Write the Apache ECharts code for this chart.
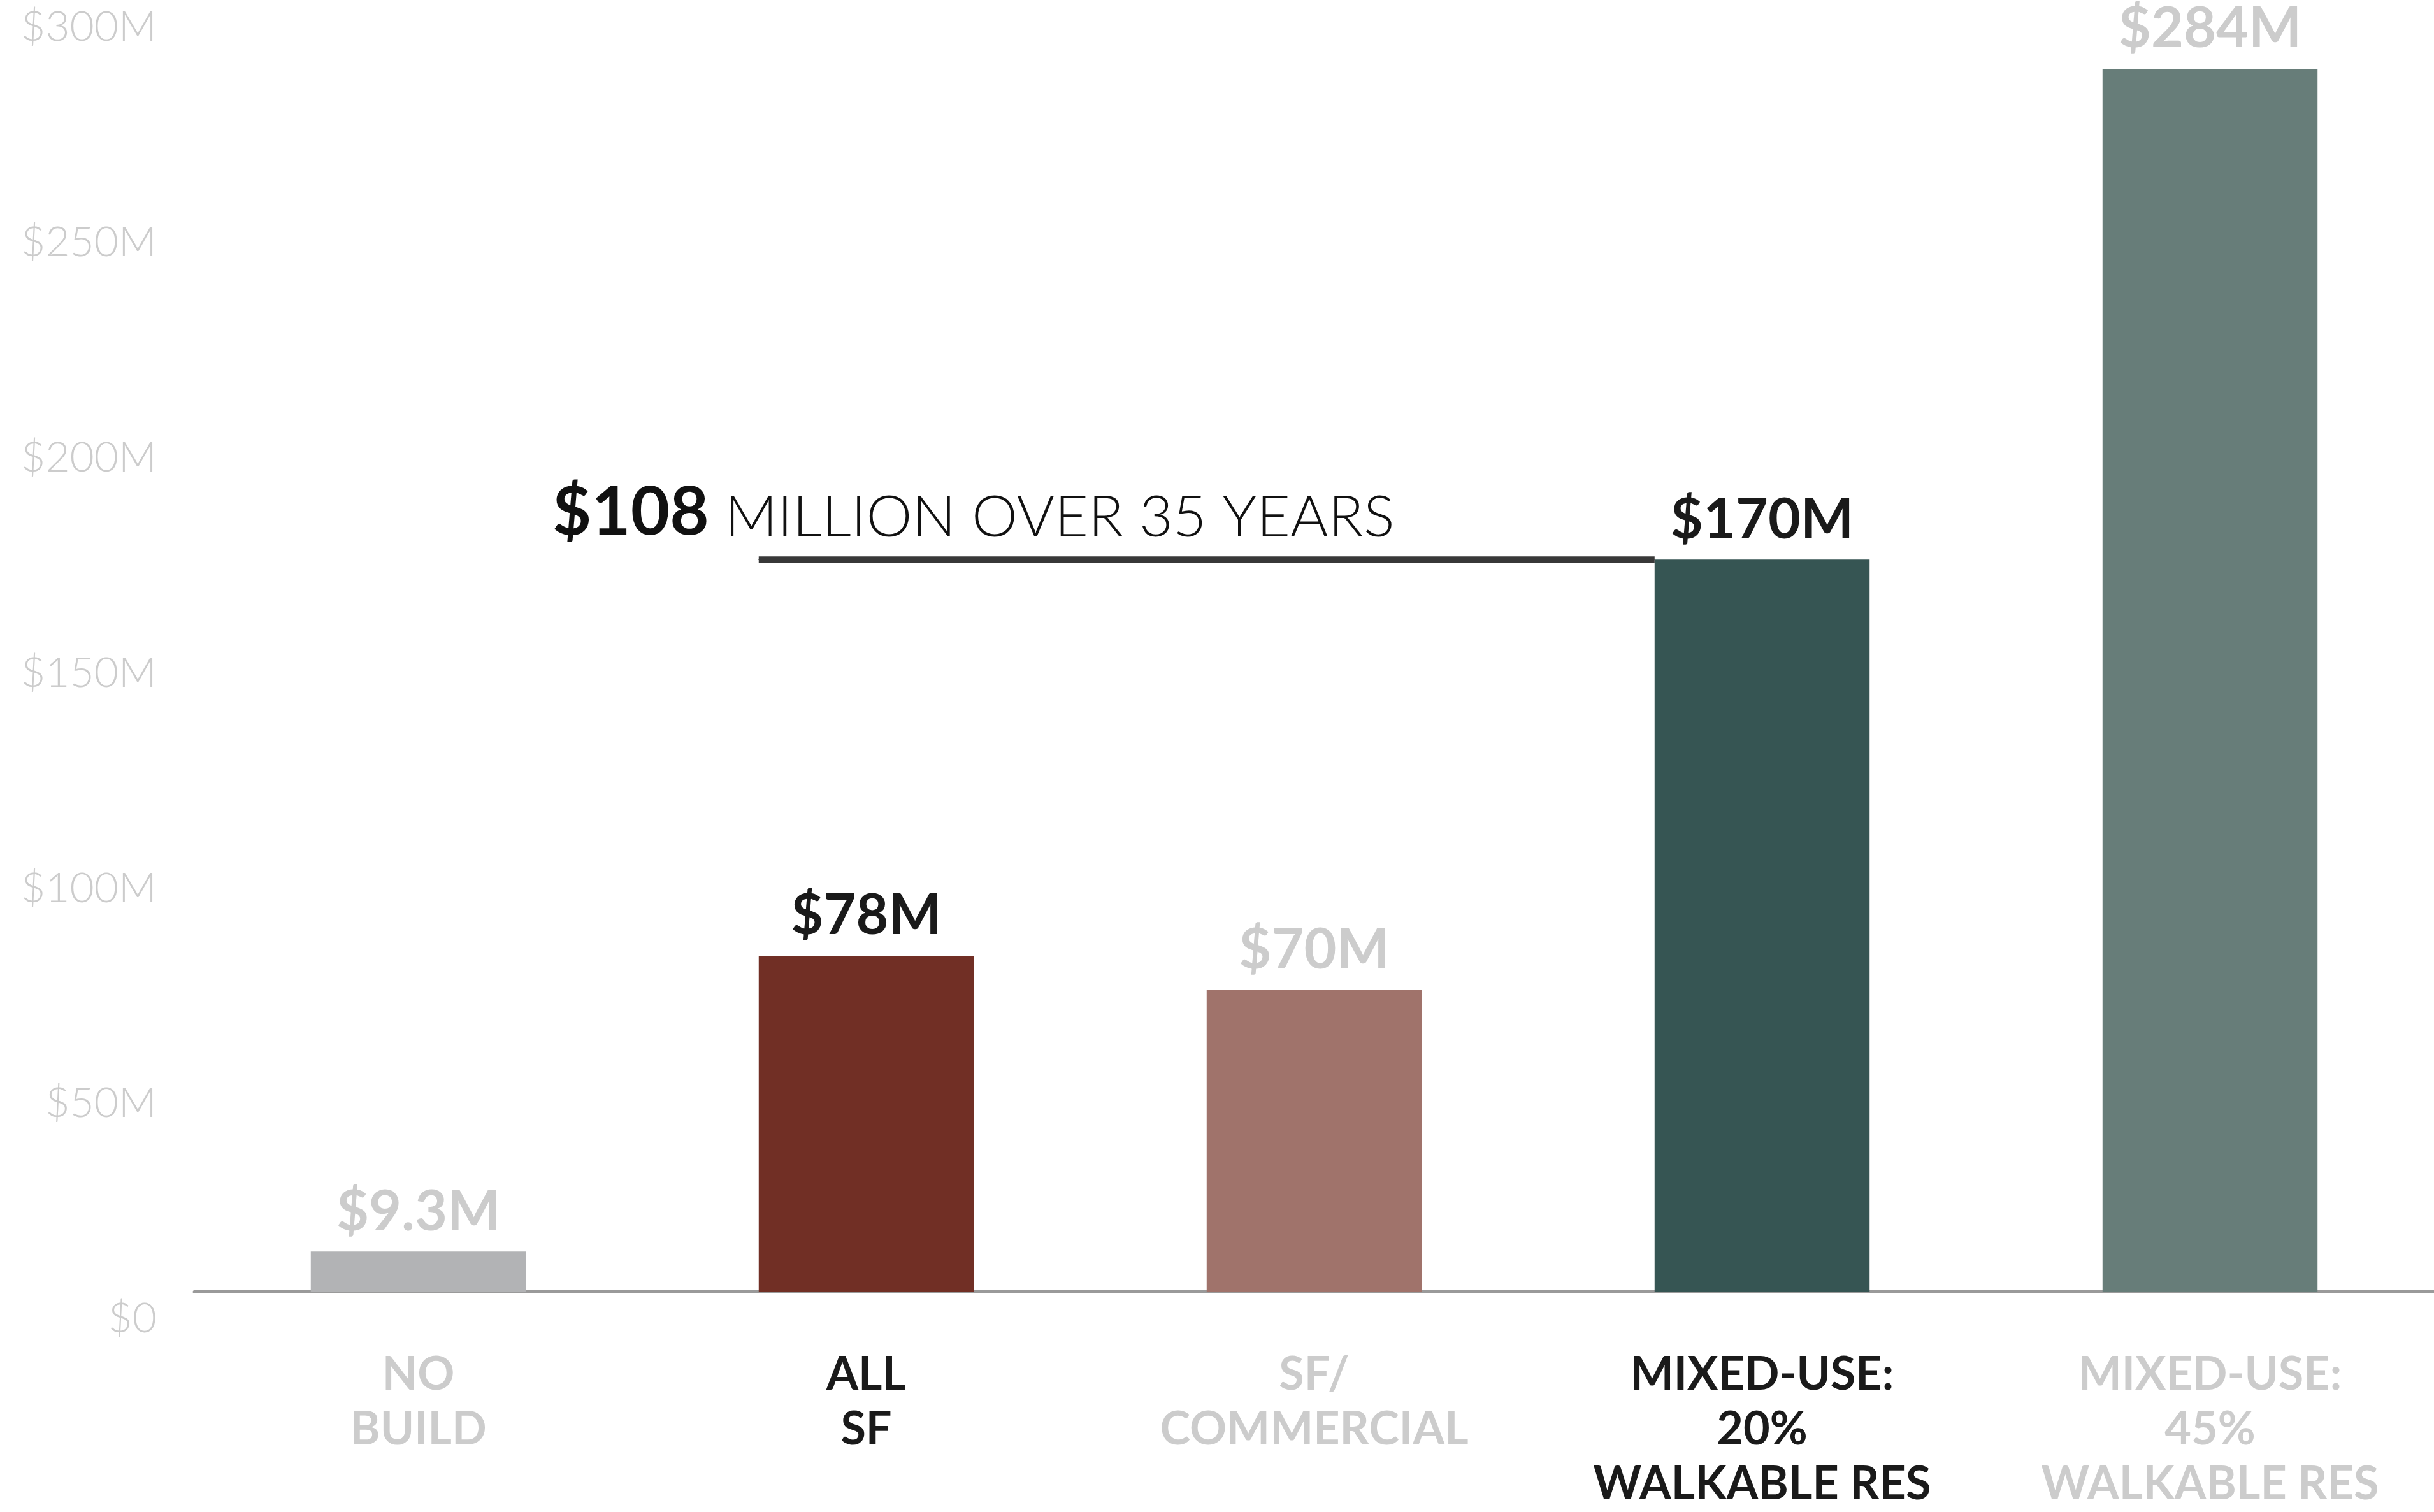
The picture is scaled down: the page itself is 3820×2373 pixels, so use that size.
<!DOCTYPE html>
<html>
<head>
<meta charset="utf-8">
<title>Net fiscal impact by development scenario</title>
<script src="https://cdn.jsdelivr.net/npm/echarts@6/dist/echarts.min.js"></script>
<style>
  html, body { margin: 0; padding: 0; background: #ffffff; width: 100%; height: 100%; overflow: hidden; }
  #chart { width: 100vw; height: 100vh; }
</style>
</head>
<body>
<div id="chart"></div>
<script>
// Scenarios and their values (millions of dollars)
const categories = ['NO\nBUILD', 'ALL\nSF', 'SF/\nCOMMERCIAL', 'MIXED-USE:\n20%\nWALKABLE RES', 'MIXED-USE:\n45%\nWALKABLE RES'];
const values = [9.3, 78, 70, 170, 284];
const yTicks = [0, 50, 100, 150, 200, 250, 300];

// Comparison bracket: from the "ALL SF" bar to the "MIXED-USE: 20%" bar
const bracketFrom = 1;
const bracketTo = 3;
const bracketAmount = '$108';
const bracketText = 'MILLION OVER 35 YEARS';

// Styling
const barColors = ['#b2b3b5', '#712f25', '#a0736b', '#365553', '#677d79'];
const highlighted = [false, true, false, true, false];
const darkText = '#1a1a1a';
const lightText = '#cccccc';
const barWidthShare = 0.48;
const FONT = 'Lato, "Open Sans", sans-serif';
const PLOT_HEIGHT = 2042; // baseline sits this far below the top edge

const el = document.getElementById('chart');
const chart = echarts.init(el, null, { renderer: 'canvas' });

const half = barWidthShare / 2;
const bracketY = values[bracketTo];

function buildOption() {
  const h = el.clientHeight || window.innerHeight;
  return {
    animation: false,
    backgroundColor: '#ffffff',
    grid: { left: 305, right: 0, top: 0, bottom: Math.max(h - PLOT_HEIGHT, 200), containLabel: false },
    xAxis: [
      {
        type: 'category',
        data: categories,
        axisLine: { show: true, lineStyle: { color: '#9a9a9a', width: 5 } },
        axisTick: { show: false },
        axisLabel: {
          interval: 0,
          margin: 88,
          fontFamily: FONT,
          fontWeight: 'bold',
          fontSize: 72,
          lineHeight: 86,
          align: 'center',
          color: (v, i) => (highlighted[i] ? darkText : lightText)
        },
        splitLine: { show: false }
      },
      {
        type: 'value',
        min: -0.5,
        max: categories.length - 0.5,
        show: false
      }
    ],
    yAxis: {
      type: 'value',
      min: yTicks[0],
      max: yTicks[yTicks.length - 1],
      interval: yTicks[1] - yTicks[0],
      axisLine: { show: false },
      axisTick: { show: false },
      splitLine: { show: false },
      axisLabel: {
        margin: 59,
        fontFamily: FONT,
        fontWeight: 300,
        fontSize: 66,
        color: lightText,
        verticalAlign: 'top',
        padding: [10, 0, 0, 0],
        formatter: v => '$' + v + (v === 0 ? '' : 'M')
      }
    },
    series: [
      {
        type: 'bar',
        xAxisIndex: 0,
        barWidth: (barWidthShare * 100) + '%',
        data: values.map((v, i) => ({
          value: v,
          itemStyle: { color: barColors[i] },
          label: { color: highlighted[i] ? darkText : lightText }
        })),
        label: {
          show: true,
          position: 'top',
          distance: 18,
          fontFamily: FONT,
          fontWeight: 'bold',
          fontSize: 88,
          lineHeight: 88,
          formatter: p => '$' + p.value + 'M'
        }
      },
      {
        type: 'line',
        xAxisIndex: 1,
        symbol: 'circle',
        symbolSize: 1,
        showSymbol: true,
        z: 5,
        lineStyle: { color: '#383838', width: 10 },
        itemStyle: { color: '#383838' },
        data: [
          {
            value: [bracketFrom - half, bracketY],
            label: {
              show: true,
              position: 'top',
              align: 'left',
              distance: 20,
              offset: [-324, 0],
              formatter: '{a|' + bracketAmount + '}{b| ' + bracketText + '}',
              rich: {
                a: { fontFamily: FONT, fontWeight: 'bold', fontSize: 106, lineHeight: 110, color: '#111111', verticalAlign: 'bottom' },
                b: { fontFamily: FONT, fontWeight: 300, fontSize: 91, lineHeight: 110, color: '#111111', verticalAlign: 'bottom' }
              }
            }
          },
          { value: [bracketTo - half, bracketY], label: { show: false } }
        ]
      }
    ]
  };
}

chart.setOption(buildOption());
window.addEventListener('resize', () => { chart.resize(); chart.setOption(buildOption()); });
</script>
</body>
</html>
